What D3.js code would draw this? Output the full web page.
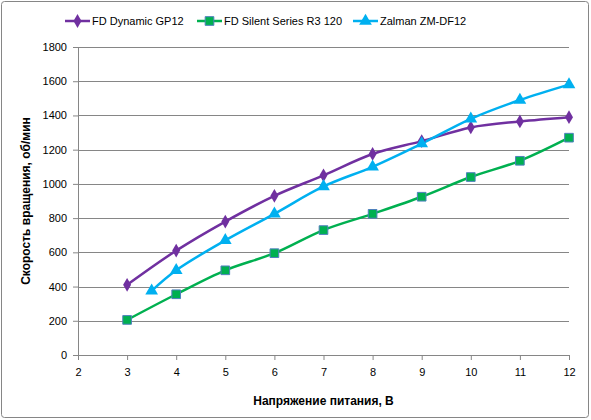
<!DOCTYPE html>
<html>
<head>
<meta charset="utf-8">
<script src="https://cdn.jsdelivr.net/npm/d3@7"></script>
<style>
  body { margin: 0; background: #fff; }
  text { font-family: "Liberation Sans", Arial, sans-serif; fill: #000; }
  .axis text { font-size: 11px; }
  .axis-label { font-size: 12px; font-weight: bold; }
  .legend text { font-size: 11px; }
</style>
</head>
<body>
<div id="chart"></div>
<script>
// Series data
const seriesNames = ["FD Dynamic GP12", "FD Silent Series R3 120", "Zalman ZM-DF12"];
const dynamicX = [3, 4, 5, 6, 7, 8, 9, 10, 11, 12];
const dynamicY = [410, 610, 780, 930, 1050, 1175, 1250, 1330, 1365, 1390];
const silentX = [3, 4, 5, 6, 7, 8, 9, 10, 11, 12];
const silentY = [205, 355, 495, 595, 730, 825, 925, 1040, 1135, 1270];
const zalmanX = [3.5, 4, 5, 6, 7, 8, 9, 10, 11, 12];
const zalmanY = [375, 495, 670, 825, 985, 1100, 1235, 1380, 1490, 1580];
const xTicks = [2, 3, 4, 5, 6, 7, 8, 9, 10, 11, 12];
const yTicks = [0, 200, 400, 600, 800, 1000, 1200, 1400, 1600, 1800];

const colors = ["#7030A0", "#00B050", "#00B0F0"];
const symbols = [d3.symbolDiamond, d3.symbolSquare, d3.symbolTriangle];

const series = [
    { name: seriesNames[0], values: dynamicX.map((x, i) => ({ x: x, y: dynamicY[i] })) },
    { name: seriesNames[1], values: silentX.map((x, i) => ({ x: x, y: silentY[i] })) },
    { name: seriesNames[2], values: zalmanX.map((x, i) => ({ x: x, y: zalmanY[i] })) }
];

// SVG size
const width_raw = 591, height_raw = 420;
const margin = { top: 47, right: 22, bottom: 65, left: 78 };
const width = width_raw - margin.left - margin.right,
    height = height_raw - margin.top - margin.bottom;

const root = d3.select("#chart")
    .append("svg")
    .attr("width", width_raw)
    .attr("height", height_raw);

// Outer chart frame
root.append("rect")
    .attr("x", 1.5).attr("y", 1.5)
    .attr("width", width_raw - 4).attr("height", height_raw - 4)
    .attr("rx", 3)
    .attr("fill", "#fff")
    .attr("stroke", "#868686")
    .attr("stroke-width", 1);

const svg = root.append("g")
    .attr("transform", `translate(${margin.left}, ${margin.top})`);

// Scales
const xScale = d3.scaleLinear().domain([2, 12]).range([0, width]);
const yScale = d3.scaleLinear().domain([0, 1800]).range([height, 0]);

// Gridlines
svg.append("g")
    .selectAll("line")
    .data(yTicks.filter(d => d > 0))
    .enter()
    .append("line")
    .attr("x1", 0).attr("x2", width)
    .attr("y1", d => Math.round(yScale(d)) + 0.5)
    .attr("y2", d => Math.round(yScale(d)) + 0.5)
    .attr("stroke", "#868686")
    .attr("stroke-width", 1);

// Axes
const xAxis = d3.axisBottom(xScale).tickValues(xTicks).tickFormat(d3.format("d"))
    .tickSize(5).tickSizeOuter(0).tickPadding(8);
const yAxis = d3.axisLeft(yScale).tickValues(yTicks).tickFormat(d3.format("d"))
    .tickSize(5).tickSizeOuter(0).tickPadding(6);

const xGroup = svg.append("g")
    .attr("class", "axis x-axis")
    .attr("transform", `translate(0, ${height})`)
    .call(xAxis);

const yGroup = svg.append("g")
    .attr("class", "axis y-axis")
    .call(yAxis);

[xGroup, yGroup].forEach(g => {
    g.selectAll("path, line").attr("stroke", "#868686");
    g.selectAll("text").attr("fill", "#000");
});

// Axis labels
svg.append("text")
    .attr("class", "axis-label")
    .attr("x", width / 2)
    .attr("y", height + 50)
    .attr("text-anchor", "middle")
    .text("Напряжение питания, В");

svg.append("text")
    .attr("class", "axis-label")
    .attr("transform", `translate(${-48}, ${height / 2}) rotate(-90)`)
    .attr("text-anchor", "middle")
    .text("Скорость вращения, об/мин");

// Lines
const line = d3.line()
    .x(d => xScale(d.x))
    .y(d => yScale(d.y))
    .curve(d3.curveCatmullRom.alpha(0.5));

series.forEach((s, i) => {
    svg.append("path")
        .datum(s.values)
        .attr("fill", "none")
        .attr("stroke", colors[i])
        .attr("stroke-width", 2.5)
        .attr("d", line);
});

// Markers
const markerSizes = [55, 75, 70];
series.forEach((s, i) => {
    svg.append("g")
        .selectAll("path")
        .data(s.values)
        .enter()
        .append("path")
        .attr("transform", d => `translate(${xScale(d.x)}, ${yScale(d.y)})`)
        .attr("d", d3.symbol().type(symbols[i]).size(markerSizes[i]))
        .attr("fill", colors[i])
        .attr("stroke", i === 1 ? "#4F81BD" : "none")
        .attr("stroke-width", 1);
});

// Legend
const legendX = [65, 197, 353];
const legend = root.append("g").attr("class", "legend");
series.forEach((s, i) => {
    const g = legend.append("g").attr("transform", `translate(${legendX[i]}, 21)`);
    g.append("line")
        .attr("x1", 0).attr("x2", 25)
        .attr("stroke", colors[i])
        .attr("stroke-width", 2.5);
    g.append("path")
        .attr("transform", "translate(12.5, 0)")
        .attr("d", d3.symbol().type(symbols[i]).size(markerSizes[i]))
        .attr("fill", colors[i])
        .attr("stroke", i === 1 ? "#4F81BD" : "none");
    g.append("text")
        .attr("x", 27)
        .attr("y", 4)
        .text(s.name);
});
</script>
</body>
</html>
